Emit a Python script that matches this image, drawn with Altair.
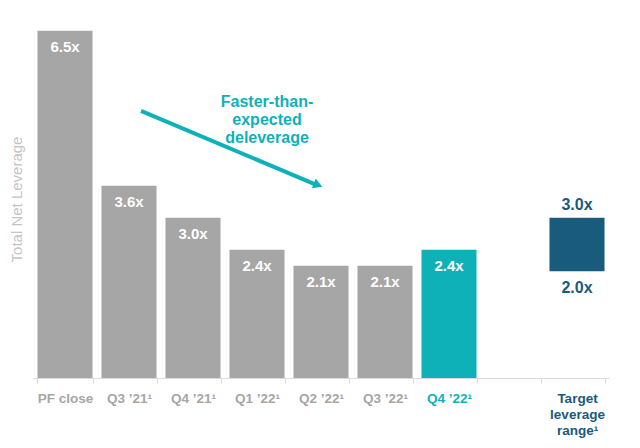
import altair as alt
import pandas as pd

# ---- data ----
categories = ["PF close", "Q3 ’21¹", "Q4 ’21¹", "Q1 ’22¹", "Q2 ’22¹", "Q3 ’22¹", "Q4 ’22¹", " ", "Target|leverage|range¹"]
bar_categories = ["PF close", "Q3 ’21¹", "Q4 ’21¹", "Q1 ’22¹", "Q2 ’22¹", "Q3 ’22¹", "Q4 ’22¹"]
leverage = [6.5, 3.6, 3.0, 2.4, 2.1, 2.1, 2.4]
highlight = "Q4 ’22¹"
target_category = "Target|leverage|range¹"
target_low = 2.0
target_high = 3.0

# annotation arrow (category, value)
arrow_start = ("Q3 ’21¹", 5.0)
arrow_end = ("Q2 ’22¹", 3.61)
note_category = "Q1 ’22¹"
note_value = 5.17
note_text = ["Faster-than-", "expected", "deleverage"]

GRAY = "#a6a6a6"
TEAL = "#0fb1b9"
NAVY = "#185b7c"
FONT = "Arial"

bars_df = pd.DataFrame({
    "cat": bar_categories,
    "val": leverage,
    "label": [f"{v:.1f}x" for v in leverage],
})
target_df = pd.DataFrame({"cat": [target_category], "low": [target_low], "high": [target_high],
                          "lowlab": [f"{target_low:.1f}x"], "highlab": [f"{target_high:.1f}x"]})
arrow_df = pd.DataFrame({"x": [arrow_start[0]], "y": [arrow_start[1]],
                         "x2": [arrow_end[0]], "y2": [arrow_end[1]]})
head_df = pd.DataFrame({"x": [arrow_end[0]], "y": [arrow_end[1]]})
note_df = pd.DataFrame({"x": [note_category], "y": [note_value], "t": [note_text]})

xscale = alt.Scale(domain=categories, paddingInner=0.14, paddingOuter=0.07)
yscale = alt.Scale(domain=[0, 6.7], nice=False)

label_color = {
    "condition": [
        {"test": f"datum.value == '{highlight}'", "value": TEAL},
        {"test": f"datum.value == '{target_category}'", "value": NAVY},
    ],
    "value": GRAY,
}

xaxis = alt.Axis(
    title=None, labelAngle=0, tickBand="extent", domainColor="#d9d9d9", tickColor="#d9d9d9",
    tickSize=5, labelFont=FONT, labelFontSize=13.5, labelFontWeight="bold",
    labelExpr="split(datum.label, '|')", labelLineHeight=16, labelPadding=15,
    labelBaseline="middle", labelColor=label_color,
)
yaxis = alt.Axis(title="Total Net Leverage", labels=False, ticks=False, domain=False, grid=False,
                 titleFont=FONT, titleFontSize=15, titleFontWeight="normal", titleColor="#c4c4c4",
                 titleX=-17, titleY=179, titleAngle=-90, titleAlign="center", titleBaseline="middle")

base = alt.Chart(bars_df)
bars = base.mark_bar().encode(
    x=alt.X("cat:N", scale=xscale, axis=xaxis, sort=categories),
    y=alt.Y("val:Q", scale=yscale, axis=yaxis),
    color=alt.condition(f"datum.cat == '{highlight}'", alt.value(TEAL), alt.value(GRAY)),
)
bar_text = base.mark_text(font=FONT, fontSize=15, fontWeight="bold", color="white", dy=16, baseline="middle").encode(
    x=alt.X("cat:N", scale=xscale, sort=categories), y=alt.Y("val:Q", scale=yscale), text="label:N")

tbase = alt.Chart(target_df)
tbar = tbase.mark_bar(color=NAVY).encode(
    x=alt.X("cat:N", scale=xscale, sort=categories), y=alt.Y("low:Q", scale=yscale), y2="high:Q")
thigh = tbase.mark_text(font=FONT, fontSize=16, fontWeight="bold", color=NAVY, dy=-13, baseline="middle").encode(
    x=alt.X("cat:N", scale=xscale, sort=categories), y=alt.Y("high:Q", scale=yscale), text="highlab:N")
tlow = tbase.mark_text(font=FONT, fontSize=16, fontWeight="bold", color=NAVY, dy=17, baseline="middle").encode(
    x=alt.X("cat:N", scale=xscale, sort=categories), y=alt.Y("low:Q", scale=yscale), text="lowlab:N")

arrow = alt.Chart(arrow_df).mark_rule(color=TEAL, strokeWidth=4, xOffset=12, x2Offset=-4).encode(
    x=alt.X("x:N", scale=xscale, sort=categories), x2="x2:N",
    y=alt.Y("y:Q", scale=yscale), y2="y2:Q")
head = alt.Chart(head_df).mark_point(shape="triangle-right", filled=True, color=TEAL, opacity=1,
                                     size=110, angle=22.7, xOffset=-3).encode(
    x=alt.X("x:N", scale=xscale, sort=categories), y=alt.Y("y:Q", scale=yscale))
note = alt.Chart(note_df).mark_text(font=FONT, fontSize=16, fontWeight="bold", color=TEAL, dx=10,
                                    baseline="middle", lineHeight=18).encode(
    x=alt.X("x:N", scale=xscale, sort=categories), y=alt.Y("y:Q", scale=yscale), text="t")

chart = alt.layer(bars, bar_text, tbar, thigh, tlow, arrow, head, note).properties(
    width=576, height=358, autosize="none",
    padding={"left": 33, "top": 20, "right": 31, "bottom": 70},
).configure_view(stroke=None)

chart.save("out.html", embed_options={"renderer": "svg", "actions": False})
